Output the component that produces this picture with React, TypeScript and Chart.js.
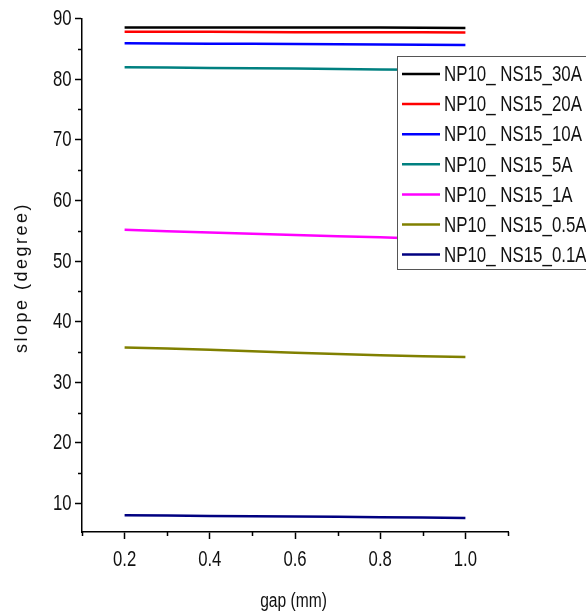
import React, { useEffect, useRef } from "react";
import { Chart, registerables } from "chart.js";

Chart.register(...registerables);

// Gap values (mm) at which slope was measured
const gaps = [0.2, 0.4, 0.6, 0.8, 1.0];

// Slope (degree) for each current setting
const slope30A = [88.5, 88.5, 88.5, 88.5, 88.45];
const slope20A = [87.8, 87.8, 87.75, 87.75, 87.7];
const slope10A = [85.9, 85.85, 85.8, 85.7, 85.63];
const slope5A = [81.95, 81.85, 81.75, 81.6, 81.5];
const slope1A = [55.15, 54.7, 54.3, 53.9, 53.45];
const slope05A = [35.75, 35.35, 34.85, 34.45, 34.15];
const slope01A = [8.07, 7.95, 7.85, 7.75, 7.62];

const seriesNames = [
  "NP10_ NS15_30A",
  "NP10_ NS15_20A",
  "NP10_ NS15_10A",
  "NP10_ NS15_5A",
  "NP10_ NS15_1A",
  "NP10_ NS15_0.5A",
  "NP10_ NS15_0.1A",
];
const seriesColors = ["#000000", "#ff0000", "#0000ff", "#008080", "#ff00ff", "#808000", "#000080"];

// Axis ticks
const xMajorTicks = [0.2, 0.4, 0.6, 0.8, 1.0];
const xMinorTicks = [0.1, 0.3, 0.5, 0.7, 0.9, 1.1];
const yMajorTicks = [10, 20, 30, 40, 50, 60, 70, 80, 90];
const yMinorTicks = [15, 25, 35, 45, 55, 65, 75, 85];

const xTitle = "gap (mm)";
const yTitle = "slope (degree)";

const SANS = '"Liberation Sans", Arial, sans-serif';

// Narrow-style text: a regular sans face squeezed horizontally
function narrowText(
  ctx: CanvasRenderingContext2D,
  text: string,
  x: number,
  y: number,
  size: number,
  squeeze: number,
  align: CanvasTextAlign
) {
  ctx.save();
  ctx.translate(x, y);
  ctx.scale(squeeze, 1);
  ctx.font = `${size}px ${SANS}`;
  ctx.textAlign = align;
  ctx.textBaseline = "middle";
  ctx.fillStyle = "#111";
  ctx.fillText(text, 0, 0);
  ctx.restore();
}

const decorations = {
  id: "decorations",
  afterDraw(chart: any) {
    const { ctx, chartArea, scales } = chart;
    const xs = scales.x;
    const ys = scales.y;
    ctx.save();

    // minor ticks
    ctx.strokeStyle = "#000";
    ctx.lineWidth = 1.5;
    ctx.beginPath();
    for (const v of yMinorTicks) {
      const py = Math.round(ys.getPixelForValue(v)) + 0.5;
      ctx.moveTo(chartArea.left - 4, py);
      ctx.lineTo(chartArea.left, py);
    }
    for (const v of xMinorTicks) {
      const px = Math.round(xs.getPixelForValue(v)) + 0.5;
      ctx.moveTo(px, chartArea.bottom);
      ctx.lineTo(px, chartArea.bottom + 4);
    }
    ctx.stroke();

    // tick labels
    for (const t of ys.ticks) {
      narrowText(ctx, String(t.value), chartArea.left - 10.5, ys.getPixelForValue(t.value) + 0.5, 22, 0.76, "right");
    }
    for (const t of xs.ticks) {
      narrowText(ctx, Number(t.value).toFixed(1), xs.getPixelForValue(t.value), chartArea.bottom + 27.5, 22, 0.76, "center");
    }

    // axis titles
    narrowText(ctx, xTitle, (chartArea.left + chartArea.right) / 2 - 1.5, 601.5, 19.5, 0.8, "center");

    ctx.save();
    ctx.translate(22, 277.5);
    ctx.rotate(-Math.PI / 2);
    ctx.font = `18px ${SANS}`;
    (ctx as any).letterSpacing = "2.5px";
    ctx.fillStyle = "#111";
    ctx.textAlign = "center";
    ctx.textBaseline = "middle";
    ctx.fillText(yTitle, 0, 0);
    ctx.restore();

    // legend box
    const bx = 397.5;
    const by = 56.5;
    ctx.fillStyle = "#fff";
    ctx.fillRect(bx, by, 200, 213);
    ctx.strokeStyle = "#555";
    ctx.lineWidth = 1;
    ctx.strokeRect(bx, by, 200, 213);
    chart.data.datasets.forEach((ds: any, i: number) => {
      const ly = 74 + i * 30.1;
      ctx.strokeStyle = ds.borderColor;
      ctx.lineWidth = 2.5;
      ctx.beginPath();
      ctx.moveTo(402, ly);
      ctx.lineTo(440, ly);
      ctx.stroke();
      narrowText(ctx, ds.label, 444, ly + 1, 22.5, 0.75, "left");
    });
    ctx.restore();
  },
};

export default function App() {
  const canvasRef = useRef<HTMLCanvasElement | null>(null);

  useEffect(() => {
    const allSeries = [slope30A, slope20A, slope10A, slope5A, slope1A, slope05A, slope01A];
    const chart = new Chart(canvasRef.current as HTMLCanvasElement, {
      type: "line",
      data: {
        datasets: allSeries.map((vals, i) => ({
          label: seriesNames[i],
          data: gaps.map((g, j) => ({ x: g, y: vals[j] })),
          borderColor: seriesColors[i],
          backgroundColor: seriesColors[i],
          borderWidth: 2.5,
          pointRadius: 0,
          tension: 0.2,
          fill: false,
        })),
      },
      options: {
        responsive: false,
        animation: false,
        layout: { padding: { left: 0, right: 78, top: 18.5, bottom: 0 } },
        plugins: { legend: { display: false }, tooltip: { enabled: false } },
        scales: {
          x: {
            type: "linear",
            min: 0.1,
            max: 1.1,
            afterBuildTicks: (s: any) => {
              s.ticks = xMajorTicks.map((v) => ({ value: v }));
            },
            afterFit: (s: any) => {
              s.height = 81;
            },
            ticks: { display: false },
            grid: { drawOnChartArea: false, drawTicks: true, tickLength: 7, tickColor: "#000", tickWidth: 1.5 },
            border: { display: true, color: "#000", width: 1.5 },
          },
          y: {
            type: "linear",
            min: 5.3,
            max: 90,
            afterBuildTicks: (s: any) => {
              s.ticks = yMajorTicks.map((v) => ({ value: v }));
            },
            afterFit: (s: any) => {
              s.width = 82;
            },
            ticks: { display: false },
            grid: { drawOnChartArea: false, drawTicks: true, tickLength: 7, tickColor: "#000", tickWidth: 1.5 },
            border: { display: true, color: "#000", width: 1.5 },
          },
        },
      },
      plugins: [decorations],
    });
    return () => chart.destroy();
  }, []);

  return (
    <div style={{ position: "absolute", left: 0, top: 0, width: 586, height: 613, background: "#fff" }}>
      <canvas ref={canvasRef} width={586} height={613} />
    </div>
  );
}
